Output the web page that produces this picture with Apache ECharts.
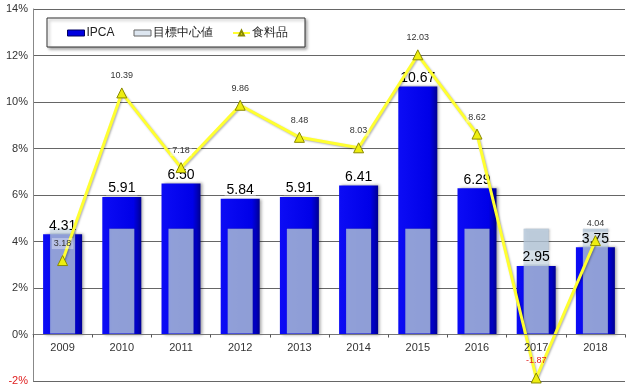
<!DOCTYPE html>
<html>
<head>
<meta charset="utf-8">
<script src="https://cdn.jsdelivr.net/npm/echarts@6/dist/echarts.min.js"></script>
<style>
html,body{margin:0;padding:0;background:#fff;}
#main{width:627px;height:388px;}
</style>
</head>
<body>
<div id="main"></div>
<script>
var years = ['2009','2010','2011','2012','2013','2014','2015','2016','2017','2018'];
var ipca = [4.31, 5.91, 6.50, 5.84, 5.91, 6.41, 10.67, 6.29, 2.95, 3.75];
var target = [4.5, 4.5, 4.5, 4.5, 4.5, 4.5, 4.5, 4.5, 4.5, 4.5];
var food = [3.18, 10.39, 7.18, 9.86, 8.48, 8.03, 12.03, 8.62, -1.87, 4.04];

var chart = echarts.init(document.getElementById('main'));
var font = 'Liberation Sans, Arial, sans-serif';
chart.setOption({
  animation:false,
  textStyle:{fontFamily:font},
  grid:{left:33, right:2, top:9, bottom:7, containLabel:false, outerBoundsMode:'none'},
  legend:{
    left:47, top:18, width:240, height:14,
    padding:[9,17,8,20],
    borderColor:'#333', borderWidth:1, backgroundColor:'#fff',
    shadowColor:'rgba(0,0,0,0.35)', shadowBlur:3, shadowOffsetX:2, shadowOffsetY:2,
    itemGap:19, itemWidth:17, itemHeight:6,
    textStyle:{fontSize:12, color:'#222', fontFamily:font, padding:[0,0,0,-3]},
    data:[
      {name:'IPCA', icon:'rect', itemStyle:{color:'#0000e0', borderColor:'#000060', borderWidth:1}},
      {name:'目標中心値', icon:'rect', itemStyle:{color:'#dde6f0', borderColor:'#666', borderWidth:1}},
      {name:'食料品'}
    ]
  },
  xAxis:[
    {type:'category', data:years, boundaryGap:true, z:10,
     axisLine:{onZero:true, lineStyle:{color:'#777'}},
     axisTick:{show:true, alignWithLabel:false, length:3, lineStyle:{color:'#555'}},
     axisLabel:{show:false},
     splitLine:{show:false}},
    {type:'category', data:years, boundaryGap:true, position:'bottom', z:10,
     axisLine:{show:false, onZero:false},
     axisTick:{show:false},
     axisLabel:{show:true, interval:0, fontSize:11, color:'#333', margin:-39, fontFamily:font},
     splitLine:{show:false}}
  ],
  yAxis:{
    type:'value', min:-2, max:14, interval:2,
    axisLine:{show:true, lineStyle:{color:'#888'}},
    axisTick:{show:false},
    axisLabel:{fontSize:11, margin:5, fontFamily:font,
      formatter:'{value}%',
      color:function(v){ return v < 0 ? '#e02020' : '#333'; }},
    splitLine:{show:true, lineStyle:{color:'#666', width:1}}
  },
  series:[
    {name:'IPCA', type:'bar', data:ipca, barWidth:39, z:2,
     itemStyle:{
       color:new echarts.graphic.LinearGradient(0,0,1,0,[
         {offset:0,color:'#0c0cf5'},{offset:0.8,color:'#0000e8'},{offset:0.9,color:'#0000c0'},{offset:1,color:'#000090'}]),
       shadowColor:'rgba(0,0,0,0.35)', shadowBlur:3, shadowOffsetX:2, shadowOffsetY:0
     }},
    {name:'目標中心値', type:'pictorialBar', data:target, z:3,
     symbol:'rect', symbolSize:[25,'100%'], symbolPosition:'start',
     itemStyle:{color:'rgba(183,203,222,0.78)', borderColor:'rgba(120,130,150,0.6)', borderWidth:1,
       shadowColor:'rgba(0,0,0,0.25)', shadowBlur:2, shadowOffsetX:1}},
    {name:'IPCAラベル', type:'line', data:ipca, z:5, silent:true, legendHoverLink:false,
     symbol:'rect', symbolSize:1, showSymbol:true,
     itemStyle:{color:'rgba(0,0,0,0)'}, lineStyle:{width:0, opacity:0},
     label:{show:true, position:'top', distance:1, fontSize:14, color:'#000', fontFamily:font,
       formatter:function(p){ return p.value.toFixed(2); },
       backgroundColor:'rgba(255,255,255,0.35)', padding:[0,2,0,2]}},
    {name:'食料品', type:'line', z:6,
     symbol:'triangle', symbolSize:10,
     lineStyle:{color:'#ffff30', width:3, shadowColor:'rgba(0,0,0,0.3)', shadowBlur:2, shadowOffsetX:1, shadowOffsetY:1},
     itemStyle:{color:'#eeee10', borderColor:'#8a8a00', borderWidth:1},
     label:{show:true, position:'top', distance:6, fontSize:9, fontFamily:font,
       backgroundColor:'rgba(255,255,255,0.35)', padding:[1,2,1,2],
       formatter:function(p){ return p.value.toFixed(2); },
       color:'#333'},
     data:food.map(function(v){ return v < 0 ? {value:v, label:{color:'#e02020', backgroundColor:'transparent'}} : v; })
    }
  ]
});
</script>
</body>
</html>
